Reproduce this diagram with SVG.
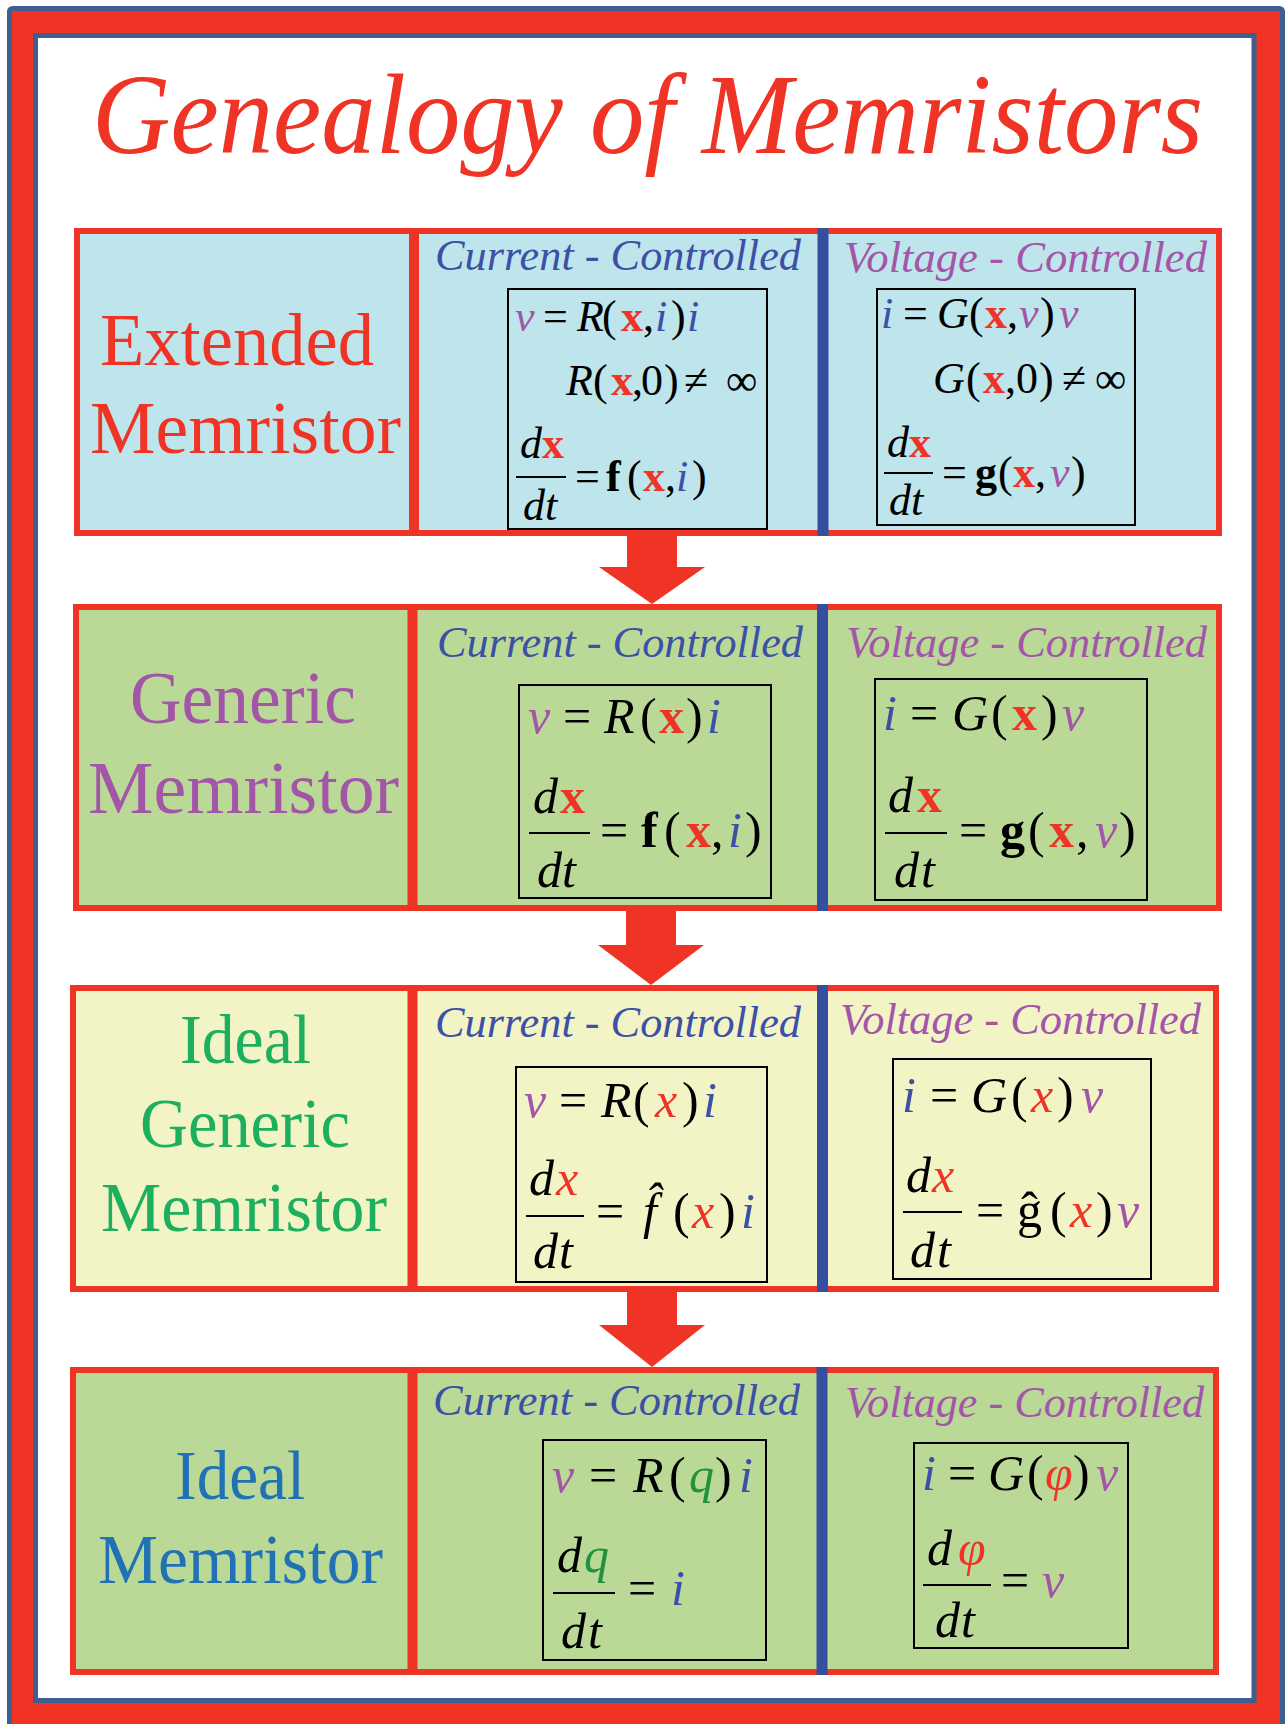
<svg xmlns="http://www.w3.org/2000/svg" width="1285" height="1724" viewBox="0 0 1285 1724" font-family="'Liberation Serif', serif">
<style>
text{font-family:"Liberation Serif",serif;}
.it{font-style:italic;}
.b{font-weight:bold;}
.rd{fill:#EF3325;}
.pu{fill:#A356A8;}
.bl{fill:#3B50A6;}
.gr{fill:#23923F;}
.f1{font-size:44px;fill:#000;}
.f2{font-size:50px;fill:#000;}
.hdc{font-size:45px;font-style:italic;fill:#3B50A6;}
.hdv{font-size:45px;font-style:italic;fill:#A356A8;}
.row{stroke:#EF3325;stroke-width:6;}
.rdiv{stroke:#EF3325;stroke-width:10;}
.bdiv{stroke:#354FA0;stroke-width:11;}
.box{fill:none;stroke:#000;stroke-width:2;}
.bar{stroke:#000;stroke-width:2;}
.arrow{fill:#EF3325;}
</style>
<rect x="0" y="0" width="1285" height="1724" fill="#fff"/>
<rect x="9.5" y="8.5" width="1273" height="1730" rx="3" fill="#EF3325" stroke="#3D5E8E" stroke-width="5"/>
<rect x="35.5" y="35.5" width="1218.5" height="1665" fill="#fff" stroke="#3D5E8E" stroke-width="5"/>

<g id="title">
<text x="92" y="153" font-size="115" font-style="italic" fill="#EF3325" textLength="1111" lengthAdjust="spacingAndGlyphs">Genealogy of Memristors</text>
</g>

<g id="connectors">
<polygon class="arrow" points="627,533 677,533 677,567 705,567 652,604 599,567 627,567"/>
<polygon class="arrow" points="626,909 676,909 676,945 704,945 651,985 598,945 626,945"/>
<polygon class="arrow" points="627,1290 677,1290 677,1325 705,1325 652,1367 599,1325 627,1325"/>
</g>

<g id="extended-memristor">
<rect class="row" x="77" y="231" width="1142" height="302" fill="#BEE5EB"/>
<line class="rdiv" x1="414" y1="228" x2="414" y2="536"/>
<line class="bdiv" x1="823" y1="228" x2="823" y2="536"/>
<text x="100" y="365" font-size="73" fill="#EF3325" textLength="274" lengthAdjust="spacingAndGlyphs">Extended</text>
<text x="90" y="453" font-size="73" fill="#EF3325" textLength="311" lengthAdjust="spacingAndGlyphs">Memristor</text>
<text class="hdc" x="435" y="270" textLength="366" lengthAdjust="spacingAndGlyphs">Current - Controlled</text>
<text class="hdv" x="844" y="272" textLength="363" lengthAdjust="spacingAndGlyphs">Voltage - Controlled</text>
<rect class="box" x="508" y="289" width="259" height="240"/>
<text class="f1" y="331"><tspan x="515" class="it pu">v</tspan><tspan x="543">=</tspan><tspan x="577" class="it">R</tspan><tspan x="602">(</tspan><tspan x="621" class="b rd">x</tspan><tspan x="643">,</tspan><tspan x="655" class="it bl">i</tspan><tspan x="671">)</tspan><tspan x="687" class="it bl">i</tspan></text>
<text class="f1" y="395"><tspan x="566" class="it">R</tspan><tspan x="593">(</tspan><tspan x="611" class="b rd">x</tspan><tspan x="632">,</tspan><tspan x="641">0</tspan><tspan x="664">)</tspan><tspan x="684">≠</tspan><tspan x="726">∞</tspan></text>
<text class="f1" y="458"><tspan x="520" class="it">d</tspan><tspan x="542" class="b rd">x</tspan></text>
<line class="bar" x1="516" y1="477" x2="566" y2="477"/>
<text class="f1 it" y="520"><tspan x="523">d</tspan><tspan x="545">t</tspan></text>
<text class="f1" y="491"><tspan x="575">=</tspan><tspan x="606" class="b">f</tspan><tspan x="627">(</tspan><tspan x="643" class="b rd">x</tspan><tspan x="665">,</tspan><tspan x="676" class="it bl">i</tspan><tspan x="692">)</tspan></text>
<rect class="box" x="877" y="289" width="258" height="236"/>
<text class="f1" y="328"><tspan x="881" class="it bl">i</tspan><tspan x="903">=</tspan><tspan x="937" class="it">G</tspan><tspan x="969">(</tspan><tspan x="985" class="b rd">x</tspan><tspan x="1007">,</tspan><tspan x="1019" class="it pu">v</tspan><tspan x="1040">)</tspan><tspan x="1059" class="it pu">v</tspan></text>
<text class="f1" y="393"><tspan x="933" class="it">G</tspan><tspan x="966">(</tspan><tspan x="983" class="b rd">x</tspan><tspan x="1005">,</tspan><tspan x="1016">0</tspan><tspan x="1039">)</tspan><tspan x="1062">≠</tspan><tspan x="1095">∞</tspan></text>
<text class="f1" y="457"><tspan x="887" class="it">d</tspan><tspan x="909" class="b rd">x</tspan></text>
<line class="bar" x1="884" y1="473" x2="933" y2="473"/>
<text class="f1 it" y="515"><tspan x="889">d</tspan><tspan x="911">t</tspan></text>
<text class="f1" y="487"><tspan x="942">=</tspan><tspan x="975" class="b">g</tspan><tspan x="998">(</tspan><tspan x="1013" class="b rd">x</tspan><tspan x="1035">,</tspan><tspan x="1050" class="it pu">v</tspan><tspan x="1071">)</tspan></text>
</g>

<g id="generic-memristor">
<rect class="row" x="76" y="607" width="1143" height="301" fill="#BAD997"/>
<line class="rdiv" x1="412.5" y1="604" x2="412.5" y2="911"/>
<line class="bdiv" x1="822.5" y1="604" x2="822.5" y2="911"/>
<text x="130" y="723" font-size="73" fill="#A356A8" textLength="226" lengthAdjust="spacingAndGlyphs">Generic</text>
<text x="88" y="813" font-size="73" fill="#A356A8" textLength="311" lengthAdjust="spacingAndGlyphs">Memristor</text>
<text class="hdc" x="437" y="657" textLength="366" lengthAdjust="spacingAndGlyphs">Current - Controlled</text>
<text class="hdv" x="846" y="657" textLength="361" lengthAdjust="spacingAndGlyphs">Voltage - Controlled</text>
<rect class="box" x="519" y="685" width="252" height="213"/>
<text class="f2" y="733"><tspan x="528" class="it pu">v</tspan><tspan x="563">=</tspan><tspan x="604" class="it">R</tspan><tspan x="640">(</tspan><tspan x="659" class="b rd">x</tspan><tspan x="686">)</tspan><tspan x="707" class="it bl">i</tspan></text>
<text class="f2" y="813"><tspan x="533" class="it">d</tspan><tspan x="560" class="b rd">x</tspan></text>
<line class="bar" x1="529" y1="833" x2="590" y2="833"/>
<text class="f2 it" y="887"><tspan x="537">d</tspan><tspan x="562">t</tspan></text>
<text class="f2" y="847"><tspan x="600">=</tspan><tspan x="641" class="b">f</tspan><tspan x="664">(</tspan><tspan x="686" class="b rd">x</tspan><tspan x="711">,</tspan><tspan x="728" class="it bl">i</tspan><tspan x="745">)</tspan></text>
<rect class="box" x="875" y="679" width="272" height="221"/>
<text class="f2" y="730"><tspan x="883" class="it bl">i</tspan><tspan x="910">=</tspan><tspan x="952" class="it">G</tspan><tspan x="991">(</tspan><tspan x="1012" class="b rd">x</tspan><tspan x="1041">)</tspan><tspan x="1062" class="it pu">v</tspan></text>
<text class="f2" y="812"><tspan x="888" class="it">d</tspan><tspan x="917" class="b rd">x</tspan></text>
<line class="bar" x1="885" y1="833" x2="947" y2="833"/>
<text class="f2 it" y="887"><tspan x="894">d</tspan><tspan x="921">t</tspan></text>
<text class="f2" y="847"><tspan x="959">=</tspan><tspan x="1000" class="b">g</tspan><tspan x="1028">(</tspan><tspan x="1049" class="b rd">x</tspan><tspan x="1076">,</tspan><tspan x="1095" class="it pu">v</tspan><tspan x="1119">)</tspan></text>
</g>

<g id="ideal-generic-memristor">
<rect class="row" x="73" y="988" width="1143" height="301" fill="#F2F4C6"/>
<line class="rdiv" x1="412.5" y1="985" x2="412.5" y2="1292"/>
<line class="bdiv" x1="822.5" y1="985" x2="822.5" y2="1292"/>
<text x="180" y="1063" font-size="69" fill="#1BAF5E" textLength="131" lengthAdjust="spacingAndGlyphs">Ideal</text>
<text x="140" y="1147" font-size="69" fill="#1BAF5E" textLength="210" lengthAdjust="spacingAndGlyphs">Generic</text>
<text x="101" y="1231" font-size="69" fill="#1BAF5E" textLength="286" lengthAdjust="spacingAndGlyphs">Memristor</text>
<text class="hdc" x="435" y="1037" textLength="366" lengthAdjust="spacingAndGlyphs">Current - Controlled</text>
<text class="hdv" x="840" y="1034" textLength="361" lengthAdjust="spacingAndGlyphs">Voltage - Controlled</text>
<rect class="box" x="516" y="1067" width="251" height="215"/>
<text class="f2" y="1117"><tspan x="524" class="it pu">v</tspan><tspan x="559">=</tspan><tspan x="601" class="it">R</tspan><tspan x="633">(</tspan><tspan x="655" class="it rd">x</tspan><tspan x="682">)</tspan><tspan x="703" class="it bl">i</tspan></text>
<text class="f2" y="1195"><tspan x="529" class="it">d</tspan><tspan x="556" class="it rd">x</tspan></text>
<line class="bar" x1="526" y1="1216" x2="584" y2="1216"/>
<text class="f2 it" y="1268"><tspan x="533">d</tspan><tspan x="559">t</tspan></text>
<text class="f2" y="1228"><tspan x="596">=</tspan><tspan x="643" class="it">f̂</tspan><tspan x="673">(</tspan><tspan x="692" class="it rd">x</tspan><tspan x="719">)</tspan><tspan x="741" class="it bl">i</tspan></text>
<rect class="box" x="893" y="1059" width="258" height="220"/>
<text class="f2" y="1112"><tspan x="902" class="it bl">i</tspan><tspan x="930">=</tspan><tspan x="971" class="it">G</tspan><tspan x="1011">(</tspan><tspan x="1031" class="it rd">x</tspan><tspan x="1057">)</tspan><tspan x="1081" class="it pu">v</tspan></text>
<text class="f2" y="1192"><tspan x="906" class="it">d</tspan><tspan x="932" class="it rd">x</tspan></text>
<line class="bar" x1="903" y1="1212" x2="962" y2="1212"/>
<text class="f2 it" y="1267"><tspan x="910">d</tspan><tspan x="937">t</tspan></text>
<text class="f2" y="1227"><tspan x="976">=</tspan><tspan x="1017">ĝ</tspan><tspan x="1050">(</tspan><tspan x="1070" class="it rd">x</tspan><tspan x="1096">)</tspan><tspan x="1117" class="it pu">v</tspan></text>
</g>

<g id="ideal-memristor">
<rect class="row" x="73" y="1370" width="1143" height="302" fill="#BAD997"/>
<line class="rdiv" x1="412.5" y1="1367" x2="412.5" y2="1675"/>
<line class="bdiv" x1="822" y1="1367" x2="822" y2="1675"/>
<text x="175" y="1499" font-size="69" fill="#2171B5" textLength="130" lengthAdjust="spacingAndGlyphs">Ideal</text>
<text x="98" y="1583" font-size="69" fill="#2171B5" textLength="285" lengthAdjust="spacingAndGlyphs">Memristor</text>
<text class="hdc" x="433" y="1415" textLength="367" lengthAdjust="spacingAndGlyphs">Current - Controlled</text>
<text class="hdv" x="845" y="1417" textLength="359" lengthAdjust="spacingAndGlyphs">Voltage - Controlled</text>
<rect class="box" x="543" y="1440" width="223" height="220"/>
<text class="f2" y="1492"><tspan x="552" class="it pu">v</tspan><tspan x="589">=</tspan><tspan x="633" class="it">R</tspan><tspan x="669">(</tspan><tspan x="689" class="it gr">q</tspan><tspan x="715">)</tspan><tspan x="739" class="it bl">i</tspan></text>
<text class="f2" y="1572"><tspan x="557" class="it">d</tspan><tspan x="584" class="it gr">q</tspan></text>
<line class="bar" x1="553" y1="1593" x2="615" y2="1593"/>
<text class="f2 it" y="1648"><tspan x="561">d</tspan><tspan x="588">t</tspan></text>
<text class="f2" y="1605"><tspan x="628">=</tspan><tspan x="671" class="it bl">i</tspan></text>
<rect class="box" x="914" y="1443" width="214" height="205"/>
<text class="f2" y="1490"><tspan x="922" class="it bl">i</tspan><tspan x="948">=</tspan><tspan x="988" class="it">G</tspan><tspan x="1027">(</tspan><tspan x="1045" class="it rd">φ</tspan><tspan x="1073">)</tspan><tspan x="1096" class="it pu">v</tspan></text>
<text class="f2" y="1565"><tspan x="927" class="it">d</tspan><tspan x="958" class="it rd">φ</tspan></text>
<line class="bar" x1="923" y1="1585" x2="991" y2="1585"/>
<text class="f2 it" y="1637"><tspan x="935">d</tspan><tspan x="961">t</tspan></text>
<text class="f2" y="1597"><tspan x="1001">=</tspan><tspan x="1042" class="it pu">v</tspan></text>
</g>
</svg>
